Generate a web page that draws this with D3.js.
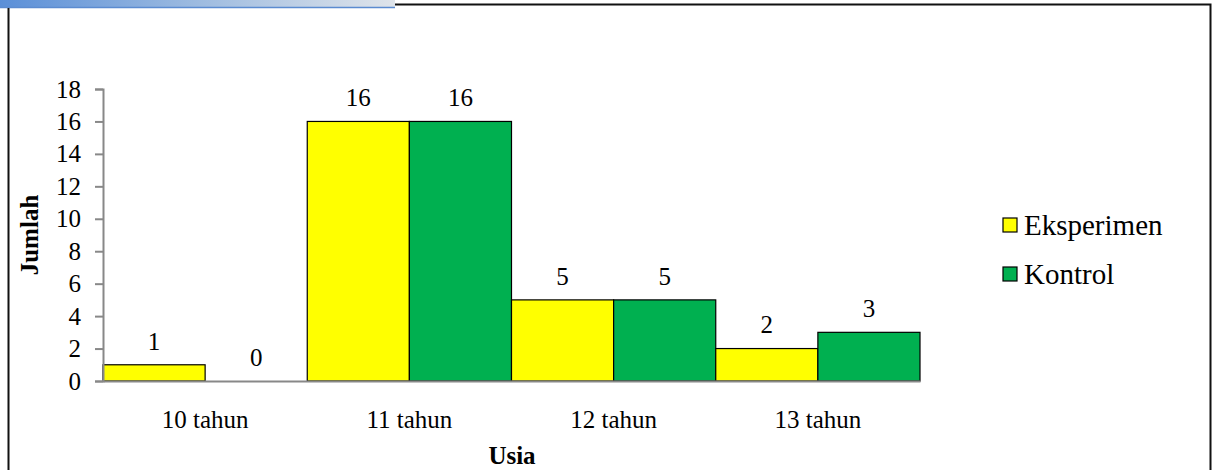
<!DOCTYPE html>
<html>
<head>
<meta charset="utf-8">
<script src="https://cdn.jsdelivr.net/npm/d3@7"></script>
<style>
  html, body { margin: 0; padding: 0; background: #fff; }
  svg { display: block; }
</style>
</head>
<body>
<svg id="chart" width="1214" height="470"></svg>
<script>
// Age groups and participant counts per group
const categories = ["10 tahun", "11 tahun", "12 tahun", "13 tahun"];
const seriesNames = ["Eksperimen", "Kontrol"];
const eksperimen = [1, 16, 5, 2];
const kontrol = [0, 16, 5, 3];
const yTicks = [0, 2, 4, 6, 8, 10, 12, 14, 16, 18];
const colors = ["#FFFF00", "#00B050"];

const FONT = "Liberation Serif";
const svg = d3.select("#chart");

// Frame with the blue header strip
const defs = svg.append("defs");
const grad = defs.append("linearGradient").attr("id", "hdr").attr("x1", "0%").attr("x2", "100%");
grad.append("stop").attr("offset", "0%").attr("stop-color", "#5a8fd8");
grad.append("stop").attr("offset", "50%").attr("stop-color", "#9dbbe0");
grad.append("stop").attr("offset", "100%").attr("stop-color", "#dfe4ea");
svg.append("rect").attr("x", 0).attr("y", 0).attr("width", 395).attr("height", 8).attr("fill", "url(#hdr)");
svg.append("line").attr("x1", 0).attr("x2", 395).attr("y1", 7.5).attr("y2", 7.5).attr("stroke", "#5b8bd0").attr("stroke-width", 1.5);
svg.append("path")
  .attr("d", "M8.5,8 V470 M395,4.5 H1210.5 V470")
  .attr("fill", "none").attr("stroke", "#111").attr("stroke-width", 2);

// Plot area
const x0 = 103, x1 = 920, yBase = 381, yTop = 89;
const x = d3.scaleBand().domain(categories).range([x0, x1]).paddingInner(0).paddingOuter(0);
const xs = d3.scaleBand().domain(seriesNames).range([0, x.bandwidth()]).padding(0);
const y = d3.scaleLinear().domain([0, 18]).range([yBase, yTop]);

const rows = categories.map((c, i) => ({ cat: c, vals: [eksperimen[i], kontrol[i]] }));

const groups = svg.append("g").selectAll("g").data(rows).join("g")
  .attr("transform", d => `translate(${x(d.cat)},0)`);

groups.selectAll("rect").data(d => d.vals.map((v, j) => ({ v, j })).filter(e => e.v > 0)).join("rect")
  .attr("x", e => xs(seriesNames[e.j]))
  .attr("y", e => y(e.v))
  .attr("width", xs.bandwidth())
  .attr("height", e => yBase - y(e.v))
  .attr("fill", e => colors[e.j])
  .attr("stroke", "#000").attr("stroke-width", 1.2);

groups.selectAll("text.val").data(d => d.vals.map((v, j) => ({ v, j }))).join("text")
  .attr("class", "val")
  .attr("x", e => xs(seriesNames[e.j]) + xs.bandwidth() / 2)
  .attr("y", e => y(e.v) - 24)
  .attr("dy", "0.35em")
  .attr("text-anchor", "middle")
  .attr("font-family", FONT)
  .attr("font-size", 25)
  .attr("fill", "#000")
  .text(e => e.v);

// Y axis
const yAxis = svg.append("g").attr("transform", `translate(${x0},0)`)
  .call(d3.axisLeft(y).tickValues(yTicks).tickSize(8).tickPadding(14));
yAxis.attr("font-family", FONT);
yAxis.select(".domain").attr("stroke", "#888").attr("stroke-width", 2);
yAxis.selectAll(".tick line").attr("stroke", "#888").attr("stroke-width", 2);
yAxis.selectAll(".tick text").attr("font-size", 25).attr("font-family", FONT).attr("fill", "#000");

// X axis
const xAxis = svg.append("g").attr("transform", `translate(0,${yBase})`)
  .call(d3.axisBottom(x).tickSize(0).tickPadding(29));
xAxis.attr("font-family", FONT);
xAxis.select(".domain").attr("stroke", "#888").attr("stroke-width", 2);
xAxis.selectAll(".tick text").attr("font-size", 25).attr("font-family", FONT).attr("fill", "#000");

// Axis titles
svg.append("text").attr("x", 512).attr("y", 464).attr("text-anchor", "middle")
  .attr("font-family", FONT).attr("font-size", 25).attr("font-weight", "bold").text("Usia");
svg.append("text").attr("transform", "translate(38,235) rotate(-90)").attr("text-anchor", "middle")
  .attr("font-family", FONT).attr("font-size", 25).attr("font-weight", "bold").text("Jumlah");

// Legend
const legend = svg.append("g").selectAll("g").data(seriesNames).join("g")
  .attr("transform", (d, i) => `translate(1003,${225 + i * 49})`);
legend.append("rect").attr("x", 0).attr("y", -7).attr("width", 14).attr("height", 14)
  .attr("fill", (d, i) => colors[i]).attr("stroke", "#000").attr("stroke-width", 1.2);
legend.append("text").attr("x", 21).attr("y", 0).attr("dy", "0.35em")
  .attr("font-family", FONT).attr("font-size", 29).attr("fill", "#000").text(d => d);
</script>
</body>
</html>
